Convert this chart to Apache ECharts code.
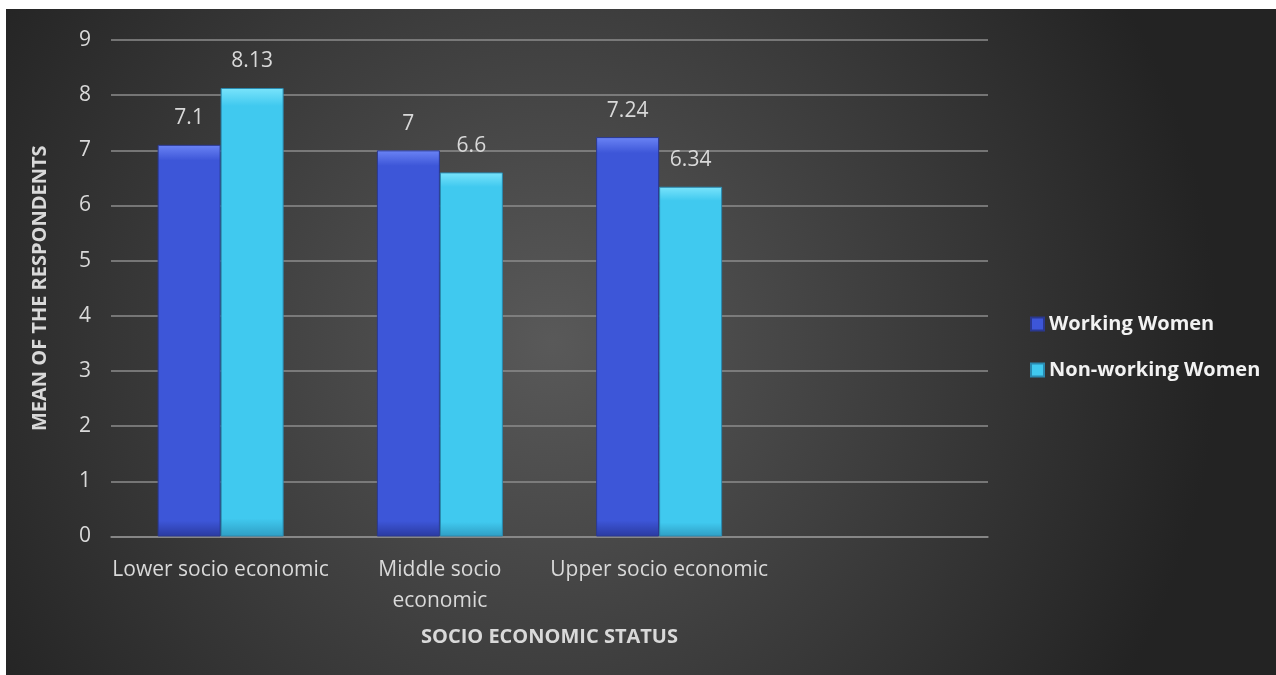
<!DOCTYPE html>
<html>
<head>
<meta charset="utf-8">
<script src="https://cdn.jsdelivr.net/npm/echarts@6/dist/echarts.min.js"></script>
<style>
html,body{margin:0;padding:0;background:#fff;width:1276px;height:675px;overflow:hidden;}
#chart{position:absolute;left:6px;top:9px;width:1270px;height:666px;}
</style>
</head>
<body>
<div id="chart"></div>
<script>
const categories = ['Lower socio economic', 'Middle socio\neconomic', 'Upper socio economic', ''];
const seriesNames = ['Working Women', 'Non-working Women'];
const workingWomen = [7.1, 7, 7.24, null];
const nonWorkingWomen = [8.13, 6.6, 6.34, null];
const yTicks = [0, 1, 2, 3, 4, 5, 6, 7, 8, 9];
const xTitle = 'SOCIO ECONOMIC STATUS';
const yTitle = 'MEAN OF THE RESPONDENTS';

const FONT = '"Open Sans", sans-serif';
function grad(top, mid, bottom) {
  return new echarts.graphic.LinearGradient(0, 0, 0, 1, [
    {offset: 0, color: top}, {offset: 0.04, color: mid}, {offset: 0.96, color: mid}, {offset: 1, color: bottom}
  ]);
}
const chart = echarts.init(document.getElementById('chart'), null, {renderer: 'canvas'});
chart.setOption({
  backgroundColor: {
    type: 'radial', x: 0.43, y: 0.5, r: 1.0,
    colorStops: [{offset: 0, color: '#595959'}, {offset: 1, color: '#232323'}]
  },
  animation: false,
  textStyle: {fontFamily: FONT},
  grid: {left: 105, top: 31, right: 288, bottom: 138.5, containLabel: false},
  legend: {
    orient: 'vertical', left: 1019, top: 300,
    itemWidth: 13, itemHeight: 13, itemGap: 26,
    icon: 'rect',
    textStyle: {color: '#f2f2f2', fontWeight: 'bold', fontSize: 20, fontFamily: FONT},
    data: seriesNames
  },
  xAxis: {
    type: 'category', data: categories,
    name: xTitle, nameLocation: 'middle', nameGap: 91,
    nameTextStyle: {color: '#d9d9d9', fontWeight: 'bold', fontSize: 20, fontFamily: FONT},
    axisLine: {lineStyle: {color: '#8c8c8c', width: 1.5}},
    axisTick: {show: false},
    axisLabel: {color: '#d9d9d9', fontSize: 21, lineHeight: 31, margin: 18, interval: 0, fontFamily: FONT}
  },
  yAxis: {
    type: 'value', min: 0, max: 9, interval: 1,
    name: yTitle, nameLocation: 'middle', nameGap: 61, nameRotate: 90,
    nameTextStyle: {color: '#d9d9d9', fontWeight: 'bold', fontSize: 20, fontFamily: FONT},
    axisLine: {show: false}, axisTick: {show: false},
    axisLabel: {color: '#d9d9d9', fontSize: 21, margin: 20, fontFamily: FONT,
      formatter: v => yTicks.includes(v) ? String(v) : ''},
    splitLine: {lineStyle: {color: '#8c8c8c', width: 1.5}}
  },
  series: [
    {
      name: seriesNames[0], type: 'bar', data: workingWomen,
      barWidth: 63, barGap: '0%',
      itemStyle: {color: grad('#6b84f5', '#3d56d8', '#2a3aa0'), borderColor: '#2a3890', borderWidth: 1},
      label: {show: true, position: 'top', distance: 16, color: '#d9d9d9', fontSize: 21, fontFamily: FONT}
    },
    {
      name: seriesNames[1], type: 'bar', data: nonWorkingWomen,
      barWidth: 63, barGap: '0%',
      itemStyle: {color: grad('#7ae4fb', '#40c9ef', '#2f9ec4'), borderColor: '#2a8ab0', borderWidth: 1},
      label: {show: true, position: 'top', distance: 16, color: '#d9d9d9', fontSize: 21, fontFamily: FONT}
    }
  ]
});
</script>
</body>
</html>
